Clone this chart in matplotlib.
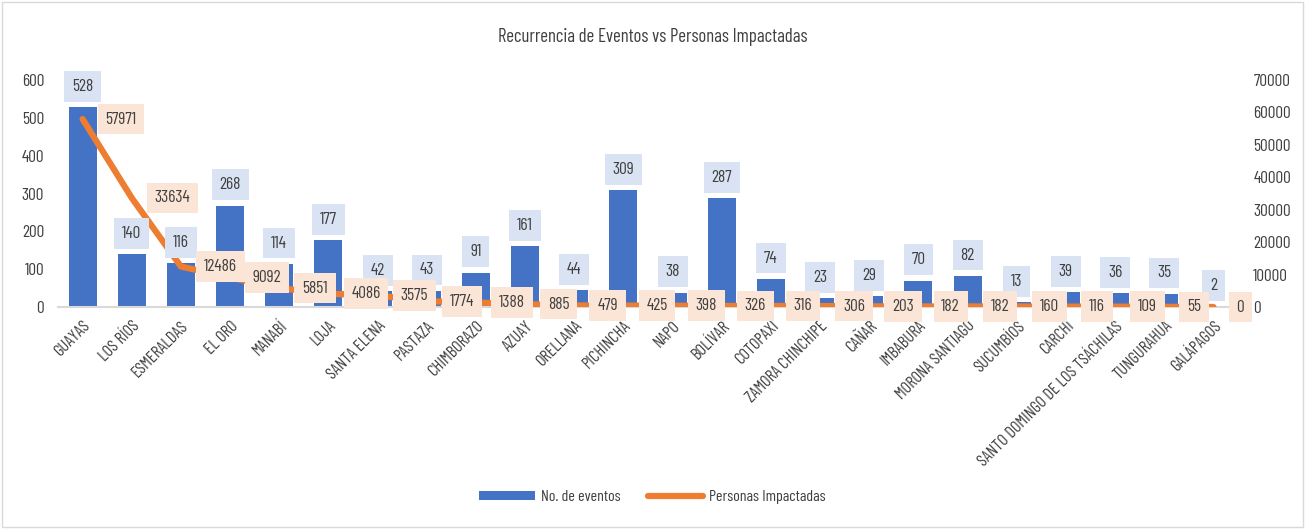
import matplotlib
matplotlib.use("Agg")
import matplotlib.pyplot as plt
from matplotlib import font_manager
from matplotlib.patches import Rectangle
import numpy as np

names = {f.name for f in font_manager.fontManager.ttflist}
fam = "Barlow Condensed" if "Barlow Condensed" in names else "DejaVu Sans"
plt.rcParams['font.family'] = [fam, 'DejaVu Sans']

provincias = ["GUAYAS", "LOS RÍOS", "ESMERALDAS", "EL ORO", "MANABÍ", "LOJA", "SANTA ELENA",
              "PASTAZA", "CHIMBORAZO", "AZUAY", "ORELLANA", "PICHINCHA", "NAPO", "BOLÍVAR",
              "COTOPAXI", "ZAMORA CHINCHIPE", "CAÑAR", "IMBABURA", "MORONA SANTIAGO",
              "SUCUMBÍOS", "CARCHI", "SANTO DOMINGO DE LOS TSÁCHILAS", "TUNGURAHUA", "GALÁPAGOS"]
eventos = [528, 140, 116, 268, 114, 177, 42, 43, 91, 161, 44, 309, 38, 287, 74, 23, 29, 70,
           82, 13, 39, 36, 35, 2]
personas = [57971, 33634, 12486, 9092, 5851, 4086, 3575, 1774, 1388, 885, 479, 425, 398, 326,
            316, 306, 203, 182, 182, 160, 116, 109, 55, 0]
left_ticks = [0, 100, 200, 300, 400, 500, 600]
right_ticks = [0, 10000, 20000, 30000, 40000, 50000, 60000, 70000]

W, H = 1305, 529
fig = plt.figure(figsize=(W / 100, H / 100), dpi=100)
fig.patches.append(Rectangle((2 / W, 2 / H), 1 - 4 / W, 1 - 4 / H, transform=fig.transFigure,
                             fill=False, edgecolor="#D9D9D9", linewidth=1))

ax = fig.add_axes([58 / W, 1 - 307 / H, (1238 - 58) / W, (307 - 80) / H])
ax2 = ax.twinx()
x = np.arange(len(provincias))
txtc = "#404040"
lfs = 12.5

ax.bar(x, eventos, width=0.57, color="#4472C4", zorder=2, label="No. de eventos")
ax.set_ylim(0, 600)
ax.set_xlim(-0.5, len(provincias) - 0.5)
ax.set_yticks(left_ticks)
ax.tick_params(axis='y', length=0, labelsize=lfs, labelcolor=txtc, pad=10)
ax.set_xticks(x)
ax.set_xticklabels(provincias, rotation=45, ha='right', rotation_mode='anchor',
                   fontsize=12, color=txtc)
ax.tick_params(axis='x', length=0, pad=8)
for s in ["top", "right", "left"]:
    ax.spines[s].set_visible(False)
ax.spines["bottom"].set_color("#D9D9D9")
ax.spines["bottom"].set_linewidth(1.5)

ax2.plot(x, personas, color="#ED7D31", linewidth=4.5, solid_capstyle='round', zorder=3,
         label="Personas Impactadas")
ax2.set_ylim(0, 70000)
ax2.set_yticks(right_ticks)
ax2.tick_params(axis='y', length=0, labelsize=lfs, labelcolor=txtc, pad=11)
for s in ["top", "right", "left", "bottom"]:
    ax2.spines[s].set_visible(False)

ax.set_zorder(1)
ax.patch.set_visible(False)
ax2.set_zorder(2)

# bar labels
for xi, v in zip(x, eventos):
    ax2.annotate(str(v), (xi, v * 70000 / 600), xytext=(0, 15), textcoords='offset points',
                 ha='center', va='center', fontsize=lfs, color=txtc, zorder=5,
                 bbox=dict(boxstyle='square,pad=0.45', fc="#DAE3F3", ec='none'))
# line labels
for xi, v in zip(x, personas):
    ax2.annotate(str(v), (xi, v), xytext=(16.5, 0), textcoords='offset points',
                 ha='left', va='center', fontsize=lfs, color=txtc, zorder=6,
                 bbox=dict(boxstyle='square,pad=0.45', fc="#FBE5D6", ec='none'))

fig.text(0.5, 1 - 37 / H, "Recurrencia de Eventos vs Personas Impactadas", ha='center',
         va='center', fontsize=13.5, color=txtc)

h1, l1 = ax.get_legend_handles_labels()
h2, l2 = ax2.get_legend_handles_labels()
fig.legend(h1 + h2, l1 + l2, loc='center', bbox_to_anchor=(0.5, 1 - 497 / H), ncol=2,
           frameon=False, fontsize=11.5, labelcolor=txtc, handlelength=3.5, columnspacing=1.7,
           handletextpad=0.35, handleheight=0.5)

fig.savefig("out.png", dpi=100)
